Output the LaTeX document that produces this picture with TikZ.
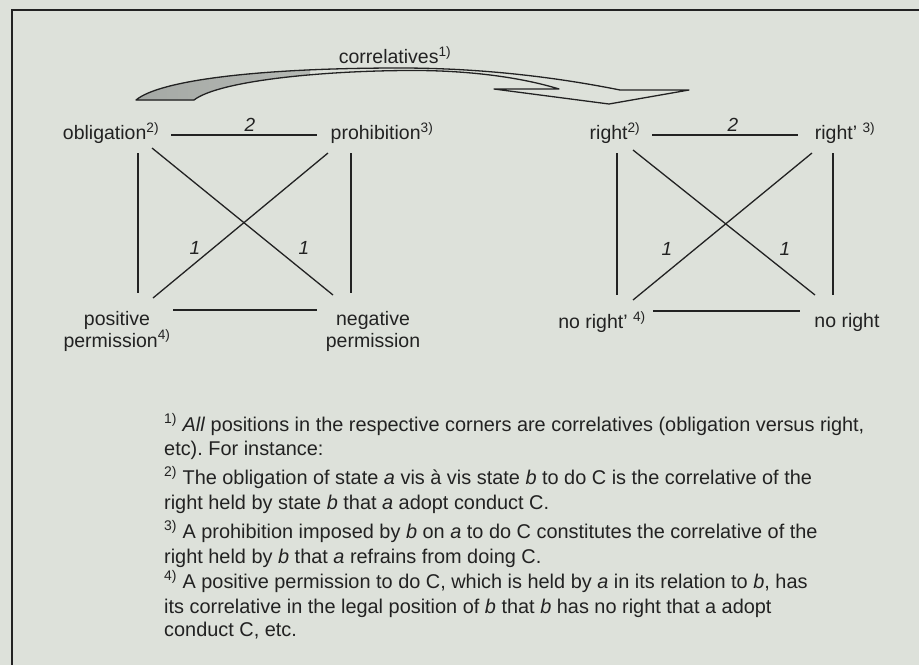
\documentclass[tikz,border=0pt]{standalone}
\usepackage{fontspec}
\setmainfont{Liberation Sans}
\definecolor{bgc}{HTML}{DDE1DA}
\definecolor{inkc}{HTML}{222222}
\definecolor{tailgrey}{HTML}{A4A8A4}
\newcommand\fnm[1]{\textsuperscript{#1)}}
\tikzset{
  lbl/.style={font=\fontsize{19.5}{22}\selectfont, text=inkc, inner sep=0pt, align=center},
  num/.style={font=\fontsize{19}{22}\selectfont\itshape, text=inkc, inner sep=0pt},
  ln/.style={draw=inkc, line width=1.3pt},
  fn/.style={font=\fontsize{19.9}{22}\selectfont, text=inkc, inner sep=0pt, anchor=base west},
}
\begin{document}
\frenchspacing
\begin{tikzpicture}[x=1pt,y=-1pt]
\fill[bgc] (0,0) rectangle (919,665);
\useasboundingbox (0,0) rectangle (919,665);
% frame
\draw[inkc, line width=1.8pt] (919,10) -- (12,10) -- (12,665);

% correlatives arrow
\node[lbl] (corr) at (395,55) {correlatives\fnm{1}};
\path[fill=bgc] (136,100) .. controls (160,80) and (260,68) .. (400,68)
  .. controls (500,68) and (580,82) .. (620,90) -- (689,90) -- (609,104)
  -- (494,89) -- (559,89) .. controls (520,77) and (470,71) .. (420,70.5)
  .. controls (330,70) and (220,80) .. (194,100) -- cycle;
\begin{scope}
\clip (136,100) .. controls (160,80) and (260,68) .. (400,68)
  -- (420,70.5) .. controls (330,70) and (220,80) .. (194,100) -- cycle;
\fill[left color=tailgrey, right color=tailgrey!70!bgc] (130,60) rectangle (310,105);
\end{scope}
\draw[ln, line join=round] (136,100) .. controls (160,80) and (260,68) .. (400,68)
  .. controls (500,68) and (580,82) .. (620,90) -- (689,90) -- (609,104)
  -- (494,89) -- (559,89) .. controls (520,77) and (470,71) .. (420,70.5)
  .. controls (330,70) and (220,80) .. (194,100) -- cycle;

% left square
\node[lbl] (obl) at (111,133) {obligation\fnm{2}};
\node[lbl] (pro) at (382,133) {prohibition\fnm{3}};
\node[lbl] (pos) at (117,331) {positive\\permission\fnm{4}};
\node[lbl] (neg) at (373,331) {negative\\permission};
\node[num] (ltwo) at (250,125) {2};
\node[num] (lone1) at (195,248) {1};
\node[num] (lone2) at (304,248) {1};
\coordinate (LTa) at (171,135); \coordinate (LTb) at (317,135);
\coordinate (LLa) at (138,153); \coordinate (LLb) at (138,293);
\coordinate (LRa) at (351,153); \coordinate (LRb) at (351,293);
\coordinate (LD1a) at (152,148); \coordinate (LD1b) at (333,295);
\coordinate (LD2a) at (328,153); \coordinate (LD2b) at (153,298);
\coordinate (LBa) at (173,310); \coordinate (LBb) at (317,310);
\draw[ln] (LTa) -- (LTb);
\draw[ln] (LLa) -- (LLb);
\draw[ln] (LRa) -- (LRb);
\draw[ln] (LD1a) -- (LD1b);
\draw[ln] (LD2a) -- (LD2b);
\draw[ln] (LBa) -- (LBb);

% right square
\node[lbl] (rt) at (615,133) {right\fnm{2}};
\node[lbl] (rtp) at (845,133) {right’ \fnm{3}};
\node[lbl] (nrp) at (602,322) {no right’ \fnm{4}};
\node[lbl] (nr) at (847,322) {no right};
\node[num] (rtwo) at (733,125) {2};
\node[num] (rone1) at (667,249) {1};
\node[num] (rone2) at (785,249) {1};
\coordinate (RTa) at (652,135); \coordinate (RTb) at (798,135);
\coordinate (RLa) at (617,153); \coordinate (RLb) at (617,295);
\coordinate (RRa) at (833,153); \coordinate (RRb) at (833,295);
\coordinate (RD1a) at (633,150); \coordinate (RD1b) at (815,295);
\coordinate (RD2a) at (812,153); \coordinate (RD2b) at (633,300);
\coordinate (RBa) at (653,311); \coordinate (RBb) at (800,311);
\draw[ln] (RTa) -- (RTb);
\draw[ln] (RLa) -- (RLb);
\draw[ln] (RRa) -- (RRb);
\draw[ln] (RD1a) -- (RD1b);
\draw[ln] (RD2a) -- (RD2b);
\draw[ln] (RBa) -- (RBb);

% footnotes
\node[fn] (f1) at (164,431) {\fnm{1} \textit{All} positions in the respective corners are correlatives (obligation versus right,};
\node[fn] (f2) at (164,455) {etc). For instance:};
\node[fn] (f3) at (164,484) {\fnm{2} The obligation of state \textit{a} vis à vis state \textit{b} to do C is the correlative of the};
\node[fn] (f4) at (164,509) {right held by state \textit{b} that \textit{a} adopt conduct C.};
\node[fn] (f5) at (164,538) {\fnm{3} A prohibition imposed by \textit{b} on \textit{a} to do C constitutes the correlative of the};
\node[fn] (f6) at (164,563) {right held by \textit{b} that \textit{a} refrains from doing C.};
\node[fn] (f7) at (164,588) {\fnm{4} A positive permission to do C, which is held by \textit{a} in its relation to \textit{b}, has};
\node[fn] (f8) at (164,613) {its correlative in the legal position of \textit{b} that \textit{b} has no right that a adopt};
\node[fn] (f9) at (164,636) {conduct C, etc.};
\end{tikzpicture}
\end{document}
